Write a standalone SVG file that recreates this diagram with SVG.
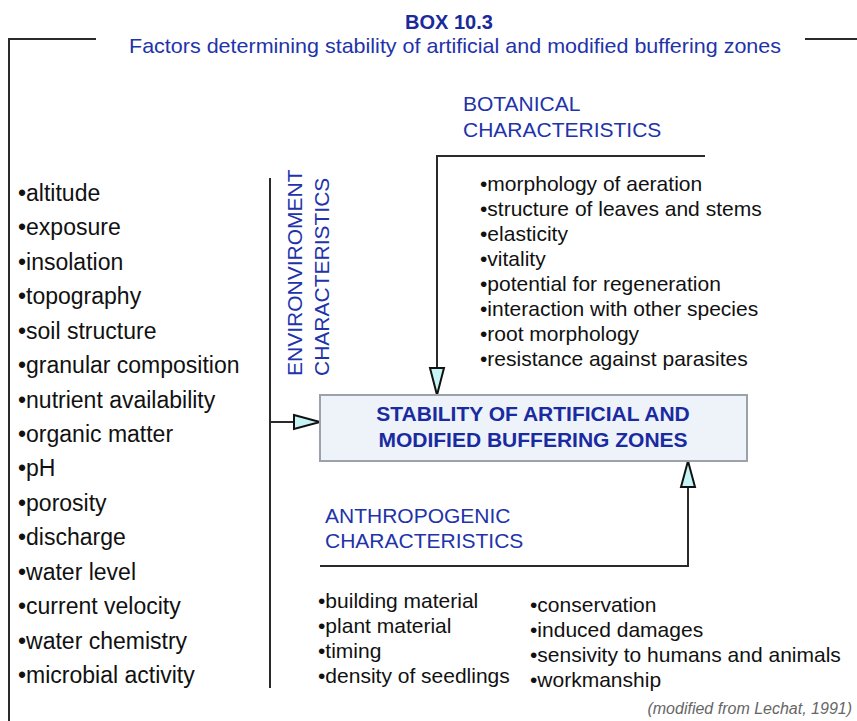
<svg xmlns="http://www.w3.org/2000/svg" width="857" height="721" viewBox="0 0 857 721">
<style>
.t{font-family:"Liberation Sans",Arial,sans-serif;}
.lst{font-family:"Liberation Sans",Arial,sans-serif;font-size:21px;fill:#111;}
.lft{font-family:"Liberation Sans",Arial,sans-serif;font-size:23px;fill:#111;}
.hd{font-family:"Liberation Sans",Arial,sans-serif;font-size:21px;fill:#2233aa;}
.ln{fill:none;stroke:#2a2a2a;stroke-width:2;}
.ah{fill:#c6f3f3;stroke:#111;stroke-width:2;stroke-linejoin:miter;}
</style>
<rect width="857" height="721" fill="#fff"/>
<g id="frame">
<path class="ln" d="M96,39 H9 V721 M805,39 H857"/>
</g>
<g id="title">
<text class="t" x="449" y="29" text-anchor="middle" font-size="20" font-weight="bold" fill="#1a2a9a">BOX 10.3</text>
<text class="t" x="129" y="53" font-size="21" fill="#2233aa" textLength="652" lengthAdjust="spacingAndGlyphs">Factors determining stability of artificial and modified buffering zones</text>
</g>
<g id="connectors">
<path class="ln" d="M270,178 V688 M270,422 H294"/>
<polygon class="ah" points="294,415 320,422 294,429"/>
<path class="ln" d="M705,156 H437 V368"/>
<polygon class="ah" points="430,368 437,395 444,368"/>
<path class="ln" d="M320,566 H688 V487"/>
<polygon class="ah" points="681,487 688,461 695,487"/>
</g>
<g id="center">
<rect x="320" y="395" width="427" height="66" fill="#eef3fa" stroke="#9ca2aa" stroke-width="2"/>
<text class="t" x="533" y="421" text-anchor="middle" font-size="21" font-weight="bold" fill="#1a2aa0">STABILITY OF ARTIFICIAL AND</text>
<text class="t" x="533" y="447" text-anchor="middle" font-size="21" font-weight="bold" fill="#1a2aa0">MODIFIED BUFFERING ZONES</text>
</g>
<g id="environment">
<text class="hd" transform="translate(302,376) rotate(-90)">ENVIRONVIROMENT</text>
<text class="hd" transform="translate(329,376) rotate(-90)">CHARACTERISTICS</text>
<text class="lft" x="18" y="201">•altitude</text>
<text class="lft" x="18" y="235">•exposure</text>
<text class="lft" x="18" y="270">•insolation</text>
<text class="lft" x="18" y="304">•topography</text>
<text class="lft" x="18" y="339">•soil structure</text>
<text class="lft" x="18" y="373">•granular composition</text>
<text class="lft" x="18" y="408">•nutrient availability</text>
<text class="lft" x="18" y="442">•organic matter</text>
<text class="lft" x="18" y="476">•pH</text>
<text class="lft" x="18" y="511">•porosity</text>
<text class="lft" x="18" y="545">•discharge</text>
<text class="lft" x="18" y="580">•water level</text>
<text class="lft" x="18" y="614">•current velocity</text>
<text class="lft" x="18" y="649">•water chemistry</text>
<text class="lft" x="18" y="683">•microbial activity</text>
</g>
<g id="botanical">
<text class="hd" x="463" y="111">BOTANICAL</text>
<text class="hd" x="463" y="137">CHARACTERISTICS</text>
<text class="lst" x="480" y="191">•morphology of aeration</text>
<text class="lst" x="480" y="216">•structure of leaves and stems</text>
<text class="lst" x="480" y="241">•elasticity</text>
<text class="lst" x="480" y="266">•vitality</text>
<text class="lst" x="480" y="291">•potential for regeneration</text>
<text class="lst" x="480" y="316">•interaction with other species</text>
<text class="lst" x="480" y="341">•root morphology</text>
<text class="lst" x="480" y="366">•resistance against parasites</text>
</g>
<g id="anthropogenic">
<text class="hd" x="325" y="523">ANTHROPOGENIC</text>
<text class="hd" x="325" y="548">CHARACTERISTICS</text>
<text class="lst" x="318" y="608">•building material</text>
<text class="lst" x="318" y="633">•plant material</text>
<text class="lst" x="318" y="658">•timing</text>
<text class="lst" x="318" y="683">•density of seedlings</text>
<text class="lst" x="530" y="612">•conservation</text>
<text class="lst" x="530" y="637">•induced damages</text>
<text class="lst" x="530" y="662">•sensivity to humans and animals</text>
<text class="lst" x="530" y="687">•workmanship</text>
</g>
<g id="source">
<text class="t" x="852" y="714" text-anchor="end" font-size="16" font-style="italic" fill="#666">(modified from Lechat, 1991)</text>
</g>
</svg>
